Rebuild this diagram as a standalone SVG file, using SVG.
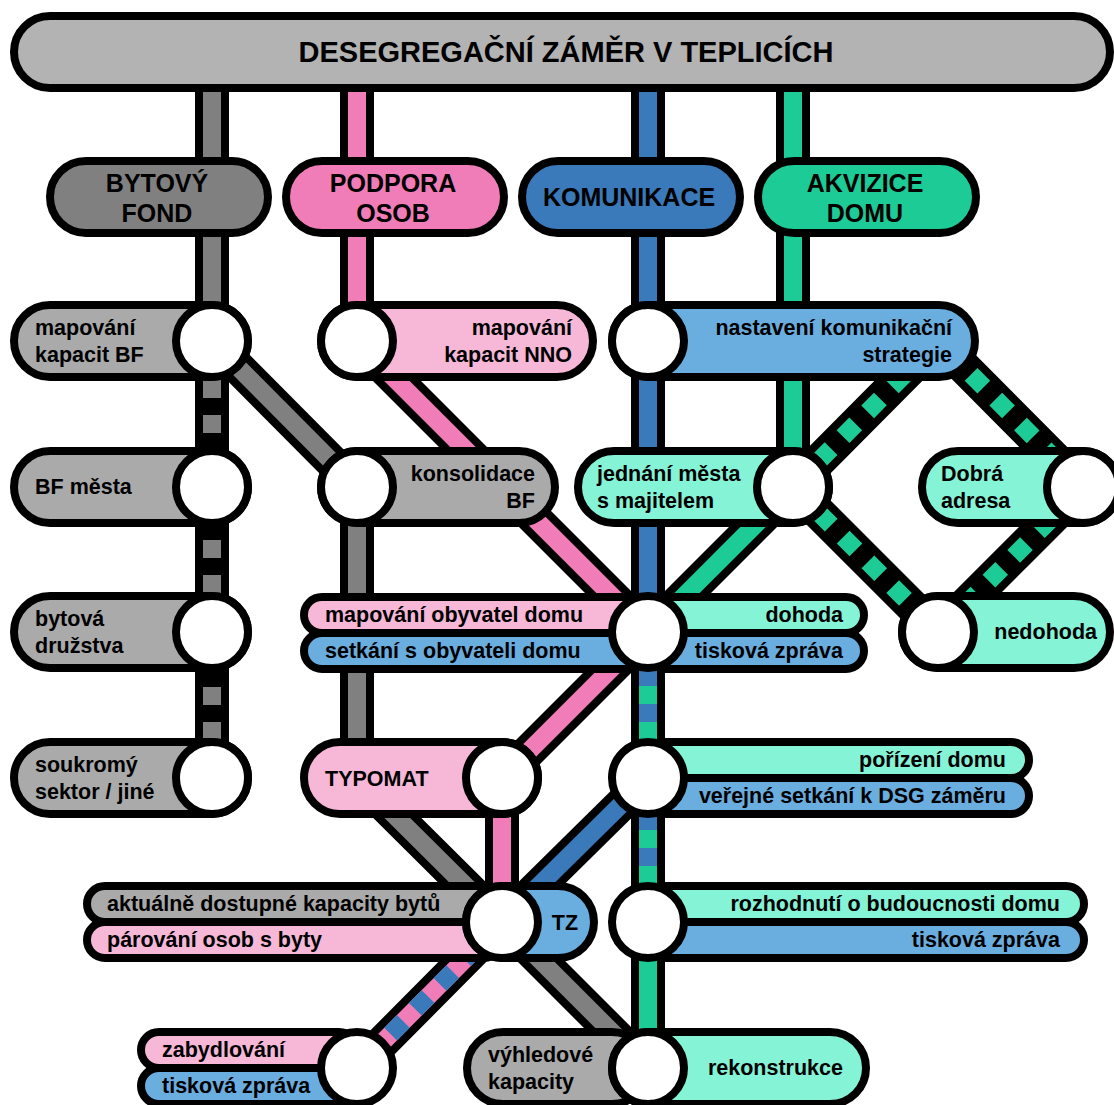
<svg xmlns="http://www.w3.org/2000/svg" width="1114" height="1105" viewBox="0 0 1114 1105">
<style>
text{font-family:"Liberation Sans",Arial,sans-serif;font-weight:bold;fill:#000}
.t{font-size:21.5px}
.c{font-size:25px;text-anchor:middle}
.e{text-anchor:end}
.ol{fill:none;stroke:#000;stroke-width:34}
.ln{fill:none;stroke-width:18}
.g{stroke:#808080}.p{stroke:#f07db7}.b{stroke:#3a79ba}.n{stroke:#1ccb95}
.d{stroke-dasharray:18 17}
.s{stroke-dasharray:18 18;stroke-dashoffset:18}
.pill{stroke:#000;stroke-width:8}
.lg{fill:#aaaaaa}.lp{fill:#f7b8d8}.lb{fill:#6aaee0}.ln2{fill:#85f3d5}
.st{fill:#fff;stroke:#000;stroke-width:8}
</style>
<rect width="1114" height="1105" fill="#fff"/>
<g id="connectors">
  <path class="ol" d="M212 88V778"/>
  <path class="ol" d="M212 341L357 487V778L502 922L648 1068"/>
  <path class="ol" d="M357 88V341L648 632L502 778V922L357 1068"/>
  <path class="ol" d="M648 88V922"/>
  <path class="ol" d="M648 778L502 922"/>
  <path class="ol" d="M793 88V487L648 632"/>
  <path class="ol" d="M648 922V1068"/>
  <path class="ol" d="M938 341L793 487L938 632L1083 487Z"/>
  <path class="ln g" d="M212 88V341"/>
  <path class="ln g d" d="M212 345V487"/>
  <path class="ln g d" d="M212 505V632"/>
  <path class="ln g d" d="M212 652V778"/>
  <path class="ln g" d="M212 341L357 487V778L502 922L648 1068"/>
  <path class="ln p" d="M357 88V341L648 632L502 778V922"/>
  <path class="ln p" d="M502 922L357 1068"/>
  <path class="ln b d" d="M502 922L357 1068"/>
  <path class="ln b" d="M648 88V922"/>
  <path class="ln n s" d="M648 632V922"/>
  <path class="ln b" d="M648 778L502 922"/>
  <path class="ln n" d="M793 88V487L648 632"/>
  <path class="ln n" d="M648 922V1068"/>
  <path class="ln n d" stroke-dashoffset="34" d="M793 487L938 341"/>
  <path class="ln n d" stroke-dashoffset="34" d="M793 487L938 632"/>
  <path class="ln n d" stroke-dashoffset="23" d="M938 341L1083 487"/>
  <path class="ln n d" stroke-dashoffset="25" d="M1083 487L938 632"/>
</g>
<g id="title">
  <rect class="pill" x="14" y="16" width="1096" height="72" rx="36" fill="#b3b3b3"/>
  <text x="566" y="62" font-size="29" text-anchor="middle">DESEGREGAČNÍ ZÁMĚR V TEPLICÍCH</text>
</g>
<g id="cat-bytovy-fond">
  <rect class="pill" x="50" y="161" width="218" height="72" rx="36" fill="#808080"/>
  <text class="c" x="157" y="192">BYTOVÝ</text><text class="c" x="157" y="222">FOND</text>
</g>
<g id="cat-podpora-osob">
  <rect class="pill" x="286" y="161" width="218" height="72" rx="36" fill="#f07db7"/>
  <text class="c" x="393" y="192">PODPORA</text><text class="c" x="393" y="222">OSOB</text>
</g>
<g id="cat-komunikace">
  <rect class="pill" x="522" y="161" width="218" height="72" rx="36" fill="#3a79ba"/>
  <text class="c" x="629" y="206">KOMUNIKACE</text>
</g>
<g id="cat-akvizice-domu">
  <rect class="pill" x="758" y="161" width="218" height="72" rx="36" fill="#1ccb95"/>
  <text class="c" x="865" y="192">AKVIZICE</text><text class="c" x="865" y="222">DOMU</text>
</g>
<g id="n-mapovani-bf">
  <rect class="pill lg" x="14" y="305" width="234" height="72" rx="36"/>
  <circle class="st" cx="212" cy="341" r="36"/>
  <text class="t" x="35" y="335">mapování</text><text class="t" x="35" y="362">kapacit BF</text>
</g>
<g id="n-bf-mesta">
  <rect class="pill lg" x="14" y="451" width="234" height="72" rx="36"/>
  <circle class="st" cx="212" cy="487" r="36"/>
  <text class="t" x="35" y="494">BF města</text>
</g>
<g id="n-bytova-druzstva">
  <rect class="pill lg" x="14" y="596" width="234" height="72" rx="36"/>
  <circle class="st" cx="212" cy="632" r="36"/>
  <text class="t" x="35" y="626">bytová</text><text class="t" x="35" y="653">družstva</text>
</g>
<g id="n-soukromy">
  <rect class="pill lg" x="14" y="742" width="234" height="72" rx="36"/>
  <circle class="st" cx="212" cy="778" r="36"/>
  <text class="t" x="35" y="772">soukromý</text><text class="t" x="35" y="799">sektor / jiné</text>
</g>
<g id="n-mapovani-nno">
  <rect class="pill lp" x="321" y="305" width="272" height="72" rx="36"/>
  <circle class="st" cx="357" cy="341" r="36"/>
  <text class="t e" x="572" y="335">mapování</text><text class="t e" x="572" y="362">kapacit NNO</text>
</g>
<g id="n-konsolidace">
  <rect class="pill lg" x="321" y="451" width="234" height="72" rx="36"/>
  <circle class="st" cx="357" cy="487" r="36"/>
  <text class="t e" x="535" y="481">konsolidace</text><text class="t e" x="535" y="508">BF</text>
</g>
<g id="n-nastaveni">
  <rect class="pill lb" x="612" y="305" width="363" height="72" rx="36"/>
  <circle class="st" cx="648" cy="341" r="36"/>
  <text class="t e" x="952" y="335">nastavení komunikační</text><text class="t e" x="952" y="362">strategie</text>
</g>
<g id="n-jednani">
  <rect class="pill ln2" x="578" y="451" width="251" height="72" rx="36"/>
  <circle class="st" cx="793" cy="487" r="36"/>
  <text class="t" x="597" y="481">jednání města</text><text class="t" x="597" y="508">s majitelem</text>
</g>
<g id="n-dobra-adresa">
  <rect class="pill ln2" x="922" y="451" width="197" height="72" rx="36"/>
  <circle class="st" cx="1083" cy="487" r="36"/>
  <text class="t" x="941" y="481">Dobrá</text><text class="t" x="941" y="508">adresa</text>
</g>
<g id="n-nedohoda">
  <rect class="pill ln2" x="902" y="596" width="208" height="72" rx="36"/>
  <circle class="st" cx="938" cy="632" r="36"/>
  <text class="t e" x="1097" y="639">nedohoda</text>
</g>
<g id="n-hub-obyvatele">
  <rect class="pill lp" x="304" y="597" width="344" height="36" rx="18"/>
  <rect class="pill lb" x="304" y="633" width="344" height="36" rx="18"/>
  <rect class="pill ln2" x="648" y="597" width="216" height="36" rx="18"/>
  <rect class="pill lb" x="648" y="633" width="216" height="36" rx="18"/>
  <circle class="st" cx="648" cy="632" r="36"/>
  <text class="t" x="325" y="622">mapování obyvatel domu</text>
  <text class="t" x="325" y="658">setkání s obyvateli domu</text>
  <text class="t e" x="843" y="622">dohoda</text>
  <text class="t e" x="843" y="658">tisková zpráva</text>
</g>
<g id="n-typomat">
  <rect class="pill lp" x="304" y="742" width="234" height="72" rx="36"/>
  <circle class="st" cx="502" cy="778" r="36"/>
  <text class="t" x="325" y="786">TYPOMAT</text>
</g>
<g id="n-hub-porizeni">
  <rect class="pill ln2" x="648" y="742" width="381" height="36" rx="18"/>
  <rect class="pill lb" x="648" y="778" width="381" height="36" rx="18"/>
  <circle class="st" cx="648" cy="778" r="36"/>
  <text class="t e" x="1006" y="767">pořízení domu</text>
  <text class="t e" x="1006" y="803">veřejné setkání k DSG záměru</text>
</g>
<g id="n-hub-parovani">
  <rect class="pill lg" x="87" y="886" width="415" height="36" rx="18"/>
  <rect class="pill lp" x="87" y="922" width="415" height="36" rx="18"/>
  <rect class="pill lb" x="466" y="886" width="128" height="72" rx="36"/>
  <circle class="st" cx="502" cy="922" r="36"/>
  <text class="t" x="107" y="911">aktuálně dostupné kapacity bytů</text>
  <text class="t" x="107" y="947">párování osob s byty</text>
  <text class="t" x="565" y="930" text-anchor="middle">TZ</text>
</g>
<g id="n-hub-rozhodnuti">
  <rect class="pill ln2" x="648" y="886" width="436" height="36" rx="18"/>
  <rect class="pill lb" x="648" y="922" width="436" height="36" rx="18"/>
  <circle class="st" cx="648" cy="922" r="36"/>
  <text class="t e" x="1060" y="911">rozhodnutí o budoucnosti domu</text>
  <text class="t e" x="1060" y="947">tisková zpráva</text>
</g>
<g id="n-zabydlovani">
  <rect class="pill lp" x="141" y="1032" width="216" height="36" rx="18"/>
  <rect class="pill lb" x="141" y="1068" width="216" height="36" rx="18"/>
  <circle class="st" cx="357" cy="1068" r="36"/>
  <text class="t" x="162" y="1057">zabydlování</text>
  <text class="t" x="162" y="1093">tisková zpráva</text>
</g>
<g id="n-rekonstrukce">
  <rect class="pill lg" x="467" y="1032" width="181" height="72" rx="36"/>
  <rect class="pill ln2" x="612" y="1032" width="254" height="72" rx="36"/>
  <circle class="st" cx="648" cy="1068" r="36"/>
  <text class="t" x="488" y="1062">výhledové</text><text class="t" x="488" y="1089">kapacity</text>
  <text class="t e" x="843" y="1075">rekonstrukce</text>
</g>
</svg>
